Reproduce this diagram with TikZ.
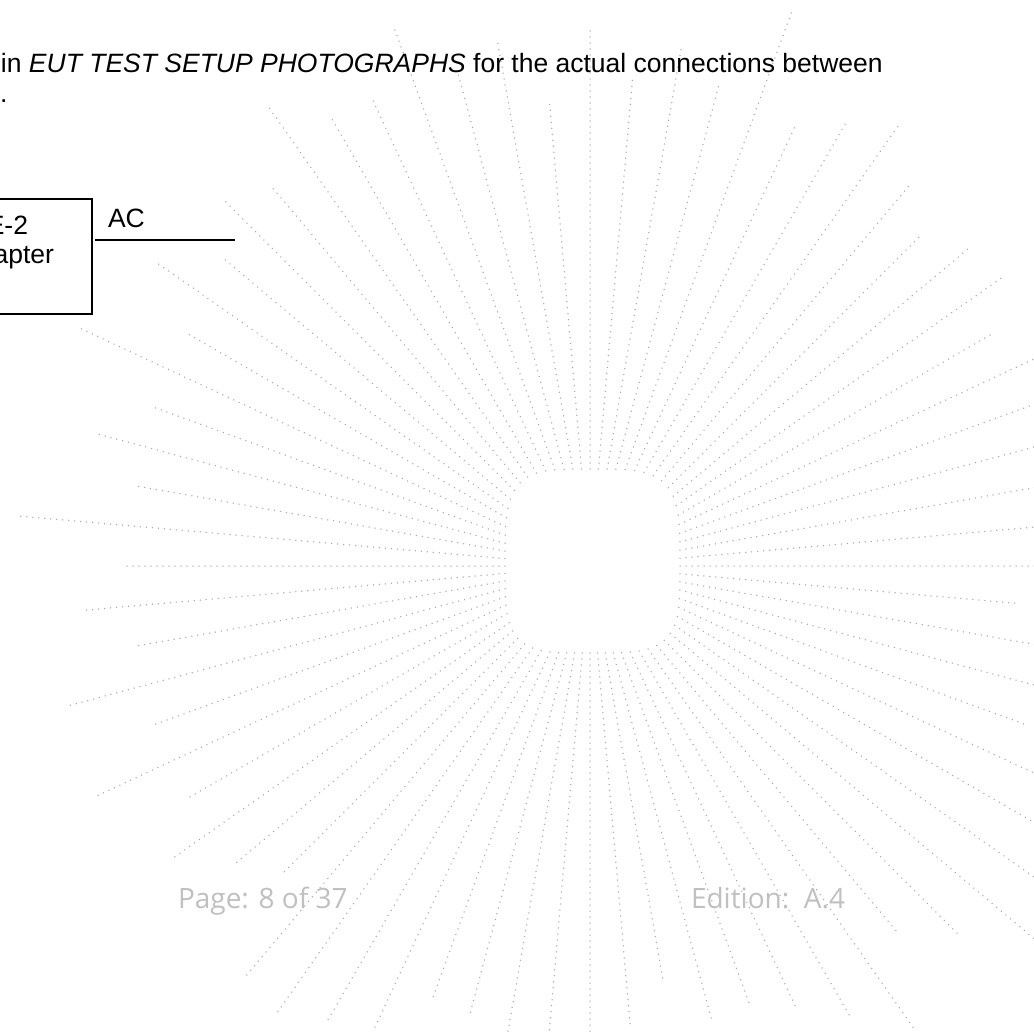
\documentclass[tikz,border=0pt]{standalone}
\usepackage{fontspec}
\setmainfont{Liberation Sans}
\newfontfamily\footfont{Open Sans}
\definecolor{raygray}{RGB}{168,168,168}
\definecolor{footgray}{RGB}{192,192,192}
\tikzset{
  rayline/.style={draw=raygray, line width=1.5pt, line cap=round, dash pattern=on 0pt off 6pt},
  hdr/.style={inner sep=0pt, outer sep=0pt, font=\fontsize{26.5}{30}\selectfont},
  boxtxt/.style={inner sep=0pt, outer sep=0pt, font=\fontsize{26.5}{30}\selectfont},
  foot/.style={inner sep=0pt, outer sep=0pt, text=footgray, font=\footfont\fontsize{28}{32}\selectfont},
  unitbox/.style={draw, line width=1.8pt, outer sep=0pt, inner sep=0pt},
  wire/.style={draw, line width=1.8pt}
}
\begin{document}
\begin{tikzpicture}[x=1pt,y=-1pt]
\useasboundingbox (0,0) rectangle (1034,1034);
\clip (0,0) rectangle (1034,1034);
\fill[white] (0,0) rectangle (1034,1034);
% starburst
\begin{scope}[shift={(590,566)}]
\foreach \t/\re in {0/700,5/432,10/700,15/700,20/462,25/700,30/700,35/700,40/700,45/525,
  50/478,55/566,60/524,65/486,70/465,75/472,80/422,85/464,90/700,95/700,
  100/700,105/463,110/464,115/509,120/524,125/550,130/535,135/437,140/463,145/508,
  150/463,155/543,160/463,165/541,170/463,175/510,180/464,185/575,190/464,195/510,
  200/465,205/563,210/465,215/532,220/480,225/516,230/498,235/563,240/517,245/515,
  250/575,255/512,260/532,265/466,270/536,275/490,280/527,285/500,290/593,295/484,
  300/513,305/540,310/497,315/465,320/496,325/505,330/464,335/700,340/700,345/700,
  350/700,355/700}{
  \pgfmathsetmacro\cc{cos(\t)}
  \pgfmathsetmacro\ss{sin(\t)}
  \pgfmathsetmacro\ax{\cc>=0 ? 90 : 85}
  \pgfmathsetmacro\by{\ss>=0 ? 87 : 97}
  \pgfmathsetmacro\ua{abs(\cc)*100/\ax}
  \pgfmathsetmacro\va{abs(\ss)*100/\by}
  \pgfmathsetmacro\rs{100/((\ua*\ua*\ua*\ua+\va*\va*\va*\va)^0.25)}
  \draw[rayline] (\t:\rs) -- (\t:\re);
}
\end{scope}
% header text
\node[hdr, anchor=base west] (l1) at (1,72) {in \textit{EUT TEST SETUP PHOTOGRAPHS} for the actual connections between};
\node[hdr, anchor=base west] (l2) at (0,102) {.};
% box and AC line
\node[unitbox, minimum width=140pt, minimum height=115pt, anchor=north east] (box) at (92,199) {};
\node[boxtxt, anchor=base east] (t1) at (28,234) {E-2};
\node[boxtxt, anchor=base east] (t2) at (54,263) {apter};
\node[boxtxt, anchor=base west] (ac) at (108,227) {AC};
\coordinate (acend) at (235,240);
\draw[wire] (box.east |- acend) ++(3,0) -- (acend);
% footer
\node[foot, anchor=base west] (pg) at (178,908) {Page: 8 of 37};
\node[foot, anchor=base west] (ed) at (691,908) {Edition:\ \ A.4};
\end{tikzpicture}
\end{document}
